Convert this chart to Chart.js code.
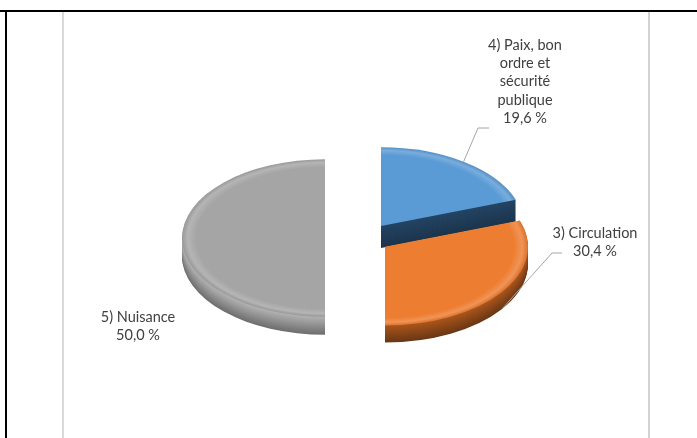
<!DOCTYPE html>
<html>
<head>
<meta charset="utf-8">
<script src="https://cdn.jsdelivr.net/npm/chart.js@4.4.1/dist/chart.umd.min.js"></script>
<style>
html, body { margin: 0; padding: 0; background: #fff; width: 697px; height: 438px; overflow: hidden; }
#wrap { position: relative; width: 697px; height: 438px; }
#pie { position: absolute; left: 0; top: 0; width: 697px; height: 438px; }
.ln { position: absolute; pointer-events: none; }
</style>
</head>
<body>
<div id="wrap">
  <canvas id="pie" width="697" height="438"></canvas>
  <div class="ln" style="left:0;top:10px;width:697px;height:2px;background:#000"></div>
  <div class="ln" style="left:5px;top:10px;width:2px;height:428px;background:#000"></div>
  <div class="ln" style="left:62px;top:12px;width:2px;height:426px;background:#d9d9d9"></div>
  <div class="ln" style="left:648px;top:12px;width:2px;height:426px;background:#d4d4d4"></div>
</div>
<script>
// data
const categories = ['4) Paix, bon ordre et sécurité publique', '3) Circulation', '5) Nuisance'];
const labelLines = [['4) Paix, bon', 'ordre et', 'sécurité', 'publique'], ['3) Circulation'], ['5) Nuisance']];
const shares = [19.6, 30.4, 50.0];

// look
const topColors = ['#5b9bd5', '#ed7d31', '#a5a5a5'];
const sideColors = [['#244463', '#1c354d'], ['#a8541c', '#6a3814'], ['#b0b0b0', '#6f6f6f']];
const explode = [[29, -22], [33, 16], [-27, 0]];   // slice pull-out, before tilt
const depths = [22, 17, 18];
const tilt = 0.55;
const labelLayout = [
    { x: 525, y: 45, leader: [[478, 128], [489, 128]] },
    { x: 595, y: 233, leader: [[552, 253], [562, 253]] },
    { x: 138, y: 317, leader: null }
];

function hex(c) { return [1, 3, 5].map(i => parseInt(c.substr(i, 2), 16)); }
function mix(a, b, t) {
    const A = hex(a), B = hex(b);
    return 'rgb(' + A.map((v, i) => Math.round(v + (B[i] - v) * t)).join(',') + ')';
}
function pct(v) { return v.toFixed(1).replace('.', ',') + ' %'; }

const pie3d = {
    id: 'pie3d',
    beforeDatasetsDraw(chart) {
        const ctx = chart.ctx;
        const arcs = chart.getDatasetMeta(0).data;
        [2, 0, 1].forEach(i => {
            const el = arcs[i];
            const [ex, ey] = explode[i];
            const depth = depths[i];
            const orig = el.options;
            const paint = (dy, fill) => {
                ctx.save();
                ctx.translate(0, dy);
                ctx.translate(el.x, el.y);
                ctx.scale(1, tilt);
                ctx.translate(-el.x, -el.y);
                ctx.translate(ex, ey);
                const f = typeof fill === 'function' ? fill() : fill;
                el.options = Object.assign({}, orig, { backgroundColor: f, borderWidth: 0, offset: 0 });
                el.draw(ctx);
                el.options = orig;
                ctx.restore();
            };
            for (let d = depth; d >= 1; d--) {
                const t = (d - 1) / (depth - 1);
                paint(d, mix(sideColors[i][0], sideColors[i][1], t));
            }
            paint(0, () => {
                const R = el.outerRadius;
                const g = ctx.createRadialGradient(el.x, el.y, 0, el.x, el.y, R);
                g.addColorStop(0, topColors[i]);
                g.addColorStop(0.9, topColors[i]);
                g.addColorStop(0.96, mix(topColors[i], '#ffffff', 0.18));
                g.addColorStop(1, mix(topColors[i], '#000000', 0.08));
                return g;
            });
        });
        return false;
    },
    afterDraw(chart) {
        const ctx = chart.ctx;
        const arcs = chart.getDatasetMeta(0).data;
        ctx.save();
        ctx.font = '14.5px Lato';
        ctx.fillStyle = '#404040';
        ctx.textAlign = 'center';
        ctx.textBaseline = 'middle';
        const lh = 18.3;
        labelLines.forEach((lines, i) => {
            const L = labelLayout[i];
            lines.concat([pct(shares[i])]).forEach((s, k) => ctx.fillText(s, L.x, L.y + k * lh));
            if (L.leader) {
                const el = arcs[i];
                const [ex, ey] = explode[i];
                const mid = (el.startAngle + el.endAngle) / 2;
                const R = el.outerRadius;
                const px = el.x + ex + Math.cos(mid) * R;
                const py = el.y + tilt * (ey + Math.sin(mid) * R) + (Math.sin(mid) > 0 ? depths[i] : 0);
                ctx.strokeStyle = '#a6a6a6';
                ctx.lineWidth = 1;
                ctx.beginPath();
                ctx.moveTo(px, py);
                L.leader.forEach(p => ctx.lineTo(p[0], p[1]));
                ctx.stroke();
            }
        });
        ctx.restore();
    }
};

new Chart(document.getElementById('pie').getContext('2d'), {
    type: 'pie',
    data: {
        labels: categories,
        datasets: [{ data: shares, backgroundColor: topColors, borderWidth: 0, radius: 143 }]
    },
    options: {
        responsive: false,
        animation: false,
        events: [],
        layout: { padding: { left: 7, top: 38 } },
        plugins: { legend: { display: false }, tooltip: { enabled: false } }
    },
    plugins: [pie3d]
});
</script>
</body>
</html>
